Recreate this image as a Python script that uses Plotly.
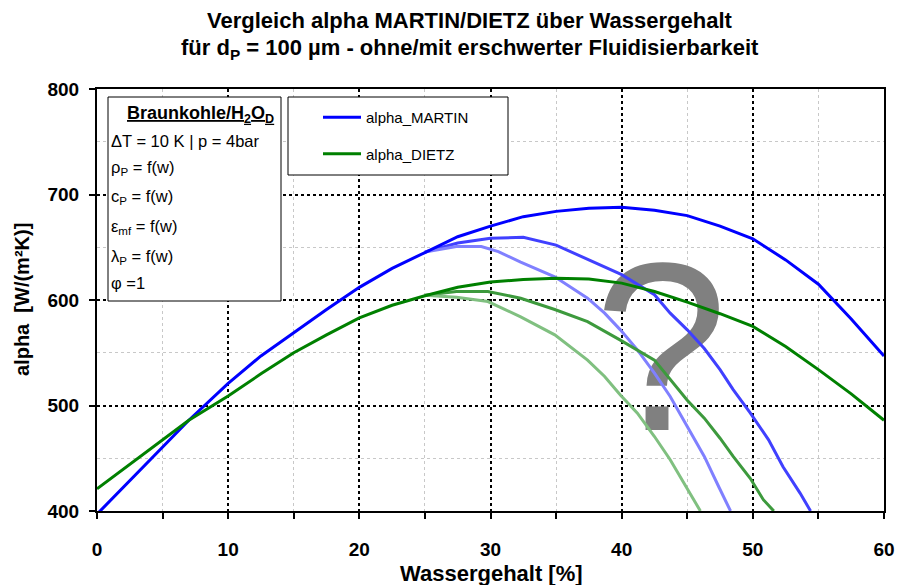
import plotly.graph_objects as go

# ---------------- data ----------------
x_main = [0, 5, 7, 10, 12.5, 15, 17.5, 20, 22.5, 25, 27.5, 30, 32.5, 35, 37.5,
          40, 42.5, 45, 47.5, 50, 52.5, 55, 57.5, 60]
alpha_martin = [397, 461, 486, 521, 547, 569, 591, 612, 630, 645, 660, 670, 679,
                684, 687, 688, 685, 680, 670, 658, 638, 615, 582, 547]
alpha_dietz = [421, 467, 486, 509, 530, 550, 567, 583, 595, 604, 612, 617, 619.5,
               620.5, 620, 616, 608, 598, 587, 575, 556, 534, 511, 486]

x_martin_b1 = [25, 27.5, 30, 32.5, 35, 37.5, 40, 42.5, 43.7, 45, 46.3, 47.5, 48.5,
               49.8, 51.2, 52.3, 53.6, 54.4]
alpha_martin_b1 = [645.5, 654, 658.5, 659.5, 652, 638, 624, 605, 587.5, 571.7, 554,
                   534, 515, 493, 467.5, 442, 417, 400]

x_martin_b2 = [25, 27.4, 29.3, 30.6, 32.3, 34.9, 37.4, 38.7, 39.9, 41.2, 42.5, 43.7,
               45, 46.3, 47.4, 48.3]
alpha_martin_b2 = [645.5, 650.6, 650.6, 645.8, 636, 622, 601.7, 587.5, 571.7, 552.7,
                   530.7, 508.5, 480, 451.7, 423, 400]

x_dietz_b1 = [25, 27.4, 29.8, 32.3, 34.9, 37.4, 39.9, 42.5, 45, 46.3, 47.5, 48.5,
              49.8, 50.8, 51.6]
alpha_dietz_b1 = [604.5, 608, 608, 601.7, 591, 579.5, 562, 543, 505, 488, 469, 451.7,
                  431, 410.7, 400]

x_dietz_b2 = [25, 27.4, 29.8, 32.3, 34.9, 37.4, 38.7, 39.9, 41.2, 42.5, 43.7, 44.8, 46]
alpha_dietz_b2 = [604.5, 602.6, 598.5, 584, 567, 543, 527.5, 510, 492.8, 470.6,
                  448.6, 425, 400]

x_ticks = [0, 10, 20, 30, 40, 50, 60]
y_ticks = [400, 500, 600, 700, 800]

title_lines = ["Vergleich alpha MARTIN/DIETZ über Wassergehalt",
               "für d<sub>P</sub> = 100 µm - ohne/mit erschwerter Fluidisierbarkeit"]
info_header = "Braunkohle/H<sub>2</sub>O<sub>D</sub>"
info_lines = ["ΔT = 10 K | p = 4bar", "ρ<sub>P</sub> = f(w)", "c<sub>P</sub> = f(w)",
              "ε<sub>mf</sub> = f(w)", "λ<sub>P</sub> = f(w)", "φ =1"]

# ---------------- styling ----------------
FONT = "Liberation Sans, Arial, sans-serif"
W, H = 898, 585
ML, MR, MT, MB = 97, 6, 89, 74
PW = W - ML - MR       # paper region width
PH = H - MT - MB
X_RIGHT = 884          # right edge of the axes box on the page
X_DOMAIN_END = (X_RIGHT - ML) / PW


def px_x(px):
    """page pixel -> paper x"""
    return (px - ML) / PW


def px_y(py):
    """page pixel -> paper y"""
    return (H - MB - py) / PH


fig = go.Figure()

# Big question mark (drawn first so the curves pass over it)
fig.add_trace(go.Scatter(x=[43.0], y=[534], mode="text", text=["?"],
                         textfont=dict(family=FONT, size=240, color="#808080"),
                         textposition="middle center", showlegend=False,
                         hoverinfo="skip"))

branches = [
    (x_martin_b1, alpha_martin_b1, "#4040ff"),
    (x_martin_b2, alpha_martin_b2, "#8080ff"),
    (x_dietz_b1, alpha_dietz_b1, "#3d9a3d"),
    (x_dietz_b2, alpha_dietz_b2, "#80c080"),
]
for xs, ys, col in branches:
    fig.add_trace(go.Scatter(x=xs, y=ys, mode="lines", line=dict(color=col, width=3),
                             showlegend=False, hoverinfo="skip"))

fig.add_trace(go.Scatter(x=x_main, y=alpha_martin, mode="lines", name="alpha_MARTIN",
                         legendgroup="m", line=dict(color="#0000ff", width=3)))
fig.add_trace(go.Scatter(x=x_main, y=alpha_dietz, mode="lines", name="alpha_DIETZ",
                         legendgroup="d", line=dict(color="#008000", width=3)))

axis_common = dict(showline=True, linecolor="black", linewidth=2, mirror=True,
                   ticks="outside", ticklen=6, tickwidth=2, tickcolor="black",
                   showgrid=True, gridcolor="black", gridwidth=2, griddash="dot",
                   zeroline=False, automargin=False,
                   tickfont=dict(family=FONT, size=19, color="black", weight="bold"))

fig.update_xaxes(range=[0, 60], tickvals=x_ticks, ticklabelstandoff=14,
                 domain=[0, X_DOMAIN_END],
                 minor=dict(dtick=5, ticks="outside", ticklen=6, tickwidth=1.5,
                            tickcolor="black", showgrid=True, gridcolor="#c8c8c8",
                            gridwidth=1),
                 **axis_common)
fig.update_yaxes(range=[400, 800], tickvals=y_ticks, ticklabelstandoff=6,
                 minor=dict(dtick=50, ticks="", showgrid=True, gridcolor="#c8c8c8",
                            gridwidth=1),
                 **axis_common)

shapes = [
    # info box
    dict(type="rect", xref="paper", yref="paper", x0=px_x(108), x1=px_x(281),
         y0=px_y(301), y1=px_y(97), line=dict(color="black", width=1),
         fillcolor="white", layer="above"),
    # legend box
    dict(type="rect", xref="paper", yref="paper", x0=px_x(288), x1=px_x(508),
         y0=px_y(175), y1=px_y(97), line=dict(color="black", width=1),
         fillcolor="white", layer="above"),
]

annotations = []
for txt, yc in zip(title_lines, [21, 49]):
    annotations.append(dict(text=f"<b>{txt}</b>", xref="paper", yref="paper",
                            x=px_x(470), y=px_y(yc), xanchor="center", yanchor="middle",
                            showarrow=False,
                            font=dict(family=FONT, size=22, color="black")))
annotations.append(dict(text=f"<b><u>{info_header}</u></b>", xref="paper", yref="paper",
                        x=px_x(200), y=px_y(115), xanchor="center", yanchor="middle",
                        showarrow=False, font=dict(family=FONT, size=18, color="black")))
for txt, yc in zip(info_lines, [141, 168, 197, 227, 257, 283]):
    annotations.append(dict(text=txt, xref="paper", yref="paper", x=px_x(109),
                            y=px_y(yc), xanchor="left", yanchor="middle",
                            showarrow=False,
                            font=dict(family=FONT, size=16.5, color="black")))
annotations.append(dict(text="<b>Wassergehalt [%]</b>", xref="paper", yref="paper",
                        x=px_x(491), y=px_y(573), xanchor="center", yanchor="middle",
                        showarrow=False, font=dict(family=FONT, size=22, color="black")))
annotations.append(dict(text="<b>alpha  [W/(m²K)]</b>", xref="paper", yref="paper",
                        x=px_x(22), y=px_y(300), xanchor="center", yanchor="middle",
                        textangle=-90, showarrow=False,
                        font=dict(family=FONT, size=20, color="black")))

fig.update_layout(
    width=W, height=H,
    margin=dict(l=ML, r=MR, t=MT, b=MB, autoexpand=False),
    paper_bgcolor="white", plot_bgcolor="white",
    shapes=shapes, annotations=annotations,
    showlegend=True,
    legend=dict(x=px_x(318), y=px_y(101), xanchor="left", yanchor="top",
                bgcolor="rgba(0,0,0,0)", borderwidth=0, tracegroupgap=14,
                traceorder="grouped", itemwidth=38,
                font=dict(family=FONT, size=15, color="black")),
    hovermode=False,
)

fig.write_html("out.html", config={"displayModeBar": False},
               post_script="document.body.style.margin='0';"
                           "document.body.style.overflow='hidden';")
